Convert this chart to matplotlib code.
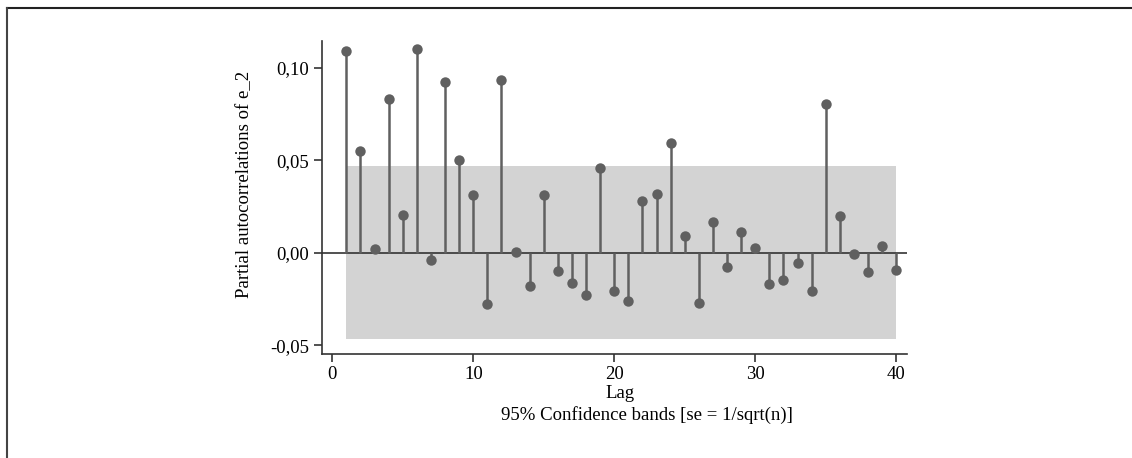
import numpy as np
import matplotlib.pyplot as plt
from matplotlib.lines import Line2D
from matplotlib.ticker import FuncFormatter

# PACF values
lags = list(range(1, 41))
pacf = [0.109, 0.055, 0.002, 0.083, 0.0205, 0.110, -0.004, 0.0925, 0.050, 0.031,
        -0.028, 0.0935, 0.0004, -0.018, 0.031, -0.010, -0.0165, -0.023, 0.0455, -0.021,
        -0.026, 0.028, 0.0315, 0.059, 0.009, -0.027, 0.0165, -0.0076, 0.011, 0.0025,
        -0.017, -0.015, -0.0056, -0.021, 0.0805, 0.020, -0.001, -0.0103, 0.0036, -0.0092]
band = 0.0469  # 1.96/sqrt(n)
y_ticks = [-0.05, 0.0, 0.05, 0.10]
x_ticks = [0, 10, 20, 30, 40]

plt.rcParams['font.family'] = ['Liberation Serif', 'DejaVu Serif']
FS = 13.5

fig = plt.figure(figsize=(11.32, 4.58), dpi=100)
ax = fig.add_axes([0.2842, 0.2271, 0.801 - 0.2842, 0.9105 - 0.2271])

ax.fill_between([lags[0], lags[-1]], -band, band, color='#d3d3d3', lw=0, zorder=0)
ax.axhline(0, color='#333333', lw=1.2, zorder=1)
ax.vlines(lags, 0, pacf, color='#606060', lw=1.8, zorder=2)
ax.plot(lags, pacf, 'o', color='#606060', ms=7.5, mew=0, zorder=3)

ax.set_xlim(-0.75, 40.74)
ax.set_ylim(-0.0548, 0.1144)
ax.set_xticks(x_ticks)
ax.set_yticks(y_ticks)
ax.yaxis.set_major_formatter(FuncFormatter(lambda v, p: f"{v:.2f}".replace('.', ',')))
ax.tick_params(labelsize=FS, length=6, width=1.2, color='#333333', pad=3)

for s in ['top', 'right']:
    ax.spines[s].set_visible(False)
for s in ['left', 'bottom']:
    ax.spines[s].set_color('#333333')
    ax.spines[s].set_linewidth(1.2)

fig.text(245 / 1132, 1 - 184 / 458, 'Partial autocorrelations of e_2', fontsize=FS,
         rotation=90, ha='center', va='center')
fig.text(620.5 / 1132, 1 - 393 / 458, 'Lag', fontsize=FS, ha='center', va='center')
fig.text(647 / 1132, 1 - 415 / 458, '95% Confidence bands [se = 1/sqrt(n)]',
         fontsize=FS, ha='center', va='center')

# page border (top and left edges)
fig.add_artist(Line2D([7 / 1132, 1], [1 - 8 / 458, 1 - 8 / 458], color='#222222', lw=1.5,
                      transform=fig.transFigure))
fig.add_artist(Line2D([7 / 1132, 7 / 1132], [0, 1 - 8 / 458], color='#444444', lw=1.5,
                      transform=fig.transFigure))

fig.savefig('out.png', dpi=100)
